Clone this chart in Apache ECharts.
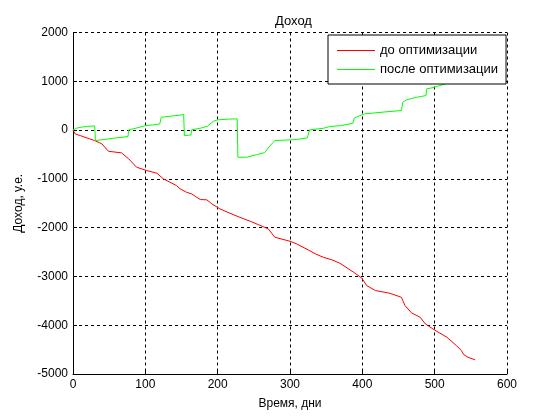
<!DOCTYPE html>
<html>
<head>
<meta charset="utf-8">
<script src="https://cdn.jsdelivr.net/npm/echarts@6/dist/echarts.min.js"></script>
<style>html,body{margin:0;padding:0;background:#fff}#c{width:560px;height:420px}</style>
</head>
<body>
<div id="c"></div>
<script>
var titleText = 'Доход';
var xName = 'Время, дни';
var yName = 'Доход, у.е.';
var seriesNames = ['до оптимизации', 'после оптимизации'];
var xTicks = [0, 100, 200, 300, 400, 500, 600];
var yTicks = [-5000, -4000, -3000, -2000, -1000, 0, 1000, 2000];

var beforeDays = [0, 3, 10, 23, 30, 40, 49, 67, 77, 88, 102, 116, 125, 143, 148, 157, 164, 171, 176, 185, 192, 203, 217, 228, 245, 256, 270, 279, 300, 309, 325, 335, 346, 358, 369, 388, 399, 406, 418, 438, 454, 459, 468, 480, 487, 500, 517, 530, 537, 540, 546, 556];
var beforeValues = [0, -78, -113, -180, -215, -283, -435, -467, -590, -762, -830, -885, -1000, -1137, -1205, -1275, -1308, -1377, -1424, -1430, -1513, -1615, -1705, -1773, -1869, -1937, -2025, -2197, -2279, -2332, -2455, -2537, -2607, -2660, -2730, -2915, -3030, -3187, -3290, -3345, -3427, -3597, -3747, -3837, -3972, -4100, -4247, -4417, -4520, -4600, -4657, -4710];

var afterDays = [0, 5, 12, 20, 30, 31, 45, 60, 76, 77, 90, 100, 110, 120, 122, 135, 145, 153, 154, 163, 164, 178, 186, 194, 200, 215, 227, 228, 240, 242, 255, 265, 272, 279, 295, 309, 324, 327, 346, 355, 371, 387, 389, 403, 430, 454, 456, 461, 475, 488, 489, 500, 523, 535, 556];
var afterValues = [0, 40, 60, 75, 86, -215, -190, -160, -133, 4, 50, 92, 105, 127, 262, 285, 300, 318, -113, -100, 4, 45, 80, 180, 209, 225, 230, -557, -557, -523, -500, -461, -330, -215, -205, -195, -160, 4, 37, 72, 92, 140, 250, 332, 370, 400, 570, 620, 672, 707, 845, 877, 990, 1080, 1150];

function pairs(xs, ys) { return xs.map(function (x, i) { return [x, ys[i]]; }); }

var font = 'Liberation Sans, Arial, sans-serif';
var chart = echarts.init(document.getElementById('c'), null, { renderer: 'canvas' });
var axisCommon = {
  axisLine: { show: true, onZero: false, lineStyle: { color: '#000', width: 1 } },
  axisTick: { show: true, inside: true, length: 4, lineStyle: { color: '#000' } },
  axisLabel: { color: '#000', fontSize: 12, fontFamily: font, margin: 5, formatter: function (v) { return String(v); } },
  splitLine: { show: true, lineStyle: { color: '#000', type: [3, 3], width: 1 } },
  nameLocation: 'middle',
  nameTextStyle: { color: '#000', fontSize: 12, fontFamily: font }
};
chart.setOption({
  animation: false,
  backgroundColor: '#fff',
  title: {
    text: titleText, left: 270, top: 10,
    textStyle: { color: '#000', fontSize: 13, fontWeight: 'normal', fontFamily: font }
  },
  legend: {
    z: 20,
    left: 328, top: 35, orient: 'vertical',
    backgroundColor: '#fff', borderColor: '#000', borderWidth: 1, borderRadius: 0,
    padding: [9, 8, 8, 9], itemGap: 6, itemWidth: 38, itemHeight: 1,
    icon: 'rect',
    textStyle: { color: '#000', fontSize: 13, fontFamily: font },
    data: seriesNames
  },
  grid: { left: 73, right: 53, top: 32.5, bottom: 46, containLabel: false },
  xAxis: Object.assign({}, axisCommon, {
    type: 'value', min: xTicks[0], max: xTicks[xTicks.length - 1], interval: 100,
    name: xName, nameGap: 24
  }),
  yAxis: Object.assign({}, axisCommon, {
    type: 'value', min: yTicks[0], max: yTicks[yTicks.length - 1], interval: 1000,
    name: yName, nameGap: 48
  }),
  series: [
    { name: seriesNames[0], type: 'line', showSymbol: false, symbol: 'none',
      data: pairs(beforeDays, beforeValues), color: '#ff0000', lineStyle: { color: '#ff0000', width: 1 }, z: 2 },
    { name: seriesNames[1], type: 'line', showSymbol: false, symbol: 'none',
      data: pairs(afterDays, afterValues), color: '#00ff00', lineStyle: { color: '#00ff00', width: 1 }, z: 2 }
  ]
});
</script>
</body>
</html>
